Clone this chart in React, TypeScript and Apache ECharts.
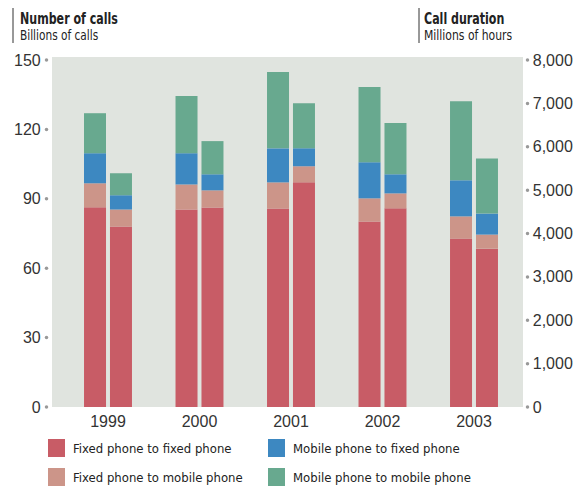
import React, { useEffect, useRef } from "react";
import * as echarts from "echarts";

const years = ["1999", "2000", "2001", "2002", "2003"];
const seriesNames = [
  "Fixed phone to fixed phone",
  "Fixed phone to mobile phone",
  "Mobile phone to fixed phone",
  "Mobile phone to mobile phone",
];
// Number of calls, billions
const callsFixedFixed = [86.3, 85.4, 85.8, 80.2, 72.8];
const callsFixedMobile = [10.4, 10.8, 11.3, 10.0, 9.6];
const callsMobileFixed = [13.0, 13.5, 14.7, 15.6, 15.6];
const callsMobileMobile = [17.3, 24.7, 33.0, 32.5, 34.2];
// Call duration, millions of hours
const durFixedFixed = [4160, 4600, 5180, 4580, 3650];
const durFixedMobile = [395, 395, 370, 345, 325];
const durMobileFixed = [325, 370, 415, 440, 485];
const durMobileMobile = [510, 765, 1040, 1180, 1270];

const leftTicks = { min: 0, max: 150, interval: 30 };
const rightTicks = { min: 0, max: 8000, interval: 1000 };

const colors = ["#c85c66", "#cc9589", "#3d88c1", "#68a98f"];
const FONT = "'DejaVu Sans Condensed', 'Liberation Sans Narrow', 'Liberation Sans', sans-serif";
const NUMFONT = "'Liberation Sans', Arial, sans-serif";

export default function App() {
  const ref = useRef<HTMLDivElement>(null);
  useEffect(() => {
    if (!ref.current) return;
    const chart = echarts.init(ref.current, undefined, { renderer: "svg" });
    const calls = [callsFixedFixed, callsFixedMobile, callsMobileFixed, callsMobileMobile];
    const dur = [durFixedFixed, durFixedMobile, durMobileFixed, durMobileMobile];
    const series: any[] = [];
    calls.forEach((d, i) =>
      series.push({
        name: seriesNames[i],
        type: "bar",
        stack: "calls",
        yAxisIndex: 0,
        data: d,
        barWidth: 22,
        barGap: "18%",
        itemStyle: { color: colors[i] },
      })
    );
    dur.forEach((d, i) =>
      series.push({
        name: seriesNames[i],
        type: "bar",
        stack: "dur",
        yAxisIndex: 1,
        data: d,
        barWidth: 22,
        barGap: "18%",
        itemStyle: { color: colors[i] },
      })
    );
    const fmt = (v: number) => v.toLocaleString("en-US");
    const legendPos = [
      [48, 439],
      [48, 468],
      [268, 439],
      [268, 468],
    ];
    const legends = seriesNames.map((n, i) => ({
      orient: "horizontal",
      left: legendPos[i][0],
      top: legendPos[i][1],
      icon: "rect",
      itemWidth: 17,
      itemHeight: 18,
      selectedMode: false,
      padding: 0,
      data: [n],
      textStyle: { fontFamily: FONT, fontSize: 13, color: "#222", padding: [0, 0, 0, 3] },
    }));
    chart.setOption({
      animation: false,
      grid: { left: 62.25, right: 64.25, top: 60, bottom: 79 },
      graphic: [
        { type: "rect", z: -10, silent: true, shape: { x: 52, y: 57, width: 471, height: 350 }, style: { fill: "#e0e4df" } },
        { type: "line", shape: { x1: 13, y1: 8, x2: 13, y2: 43 }, style: { stroke: "#333", lineWidth: 1 } },
        { type: "line", shape: { x1: 419, y1: 8, x2: 419, y2: 43 }, style: { stroke: "#333", lineWidth: 1 } },
        { type: "text", x: 20, y: 10, scaleX: 0.77, style: { text: "Number of calls", font: `bold 16px ${FONT}`, fill: "#222" } },
        { type: "text", x: 20, y: 28, scaleX: 0.81, style: { text: "Billions of calls", font: `14.5px ${FONT}`, fill: "#222" } },
        { type: "text", x: 424, y: 10, scaleX: 0.77, style: { text: "Call duration", font: `bold 16px ${FONT}`, fill: "#222" } },
        { type: "text", x: 424, y: 28, scaleX: 0.83, style: { text: "Millions of hours", font: `14.5px ${FONT}`, fill: "#222" } },
      ],
      legend: legends,
      xAxis: {
        type: "category",
        data: years,
        axisLine: { show: false },
        axisTick: { show: false },
        axisLabel: { fontFamily: NUMFONT, fontSize: 16, color: "#333", margin: 6 },
      },
      yAxis: [
        {
          type: "value",
          ...leftTicks,
          position: "left",
          splitLine: { show: false },
          axisLine: { show: false },
          axisTick: { show: false },
          axisLabel: {
            margin: 14,
            formatter: (v: number) => `{v|${fmt(v)}}{d|}`,
            rich: {
              v: { fontFamily: NUMFONT, fontSize: 16, color: "#333", padding: [0, 4, 0, 0], verticalAlign: "middle" },
              d: { width: 3.5, height: 3.5, backgroundColor: "#999", borderRadius: 2, verticalAlign: "middle" },
            },
          },
        },
        {
          type: "value",
          ...rightTicks,
          position: "right",
          splitLine: { show: false },
          axisLine: { show: false },
          axisTick: { show: false },
          axisLabel: {
            margin: 6,
            formatter: (v: number) => `{d|}{v|${fmt(v)}}`,
            rich: {
              v: { fontFamily: NUMFONT, fontSize: 16, color: "#333", padding: [0, 0, 0, 3.5], verticalAlign: "middle" },
              d: { width: 3.5, height: 3.5, backgroundColor: "#999", borderRadius: 2, verticalAlign: "middle" },
            },
          },
        },
      ],
      series,
    });
    return () => chart.dispose();
  }, []);
  return <div ref={ref} style={{ width: 584, height: 486, position: "absolute", left: 0, top: 0 }} />;
}
